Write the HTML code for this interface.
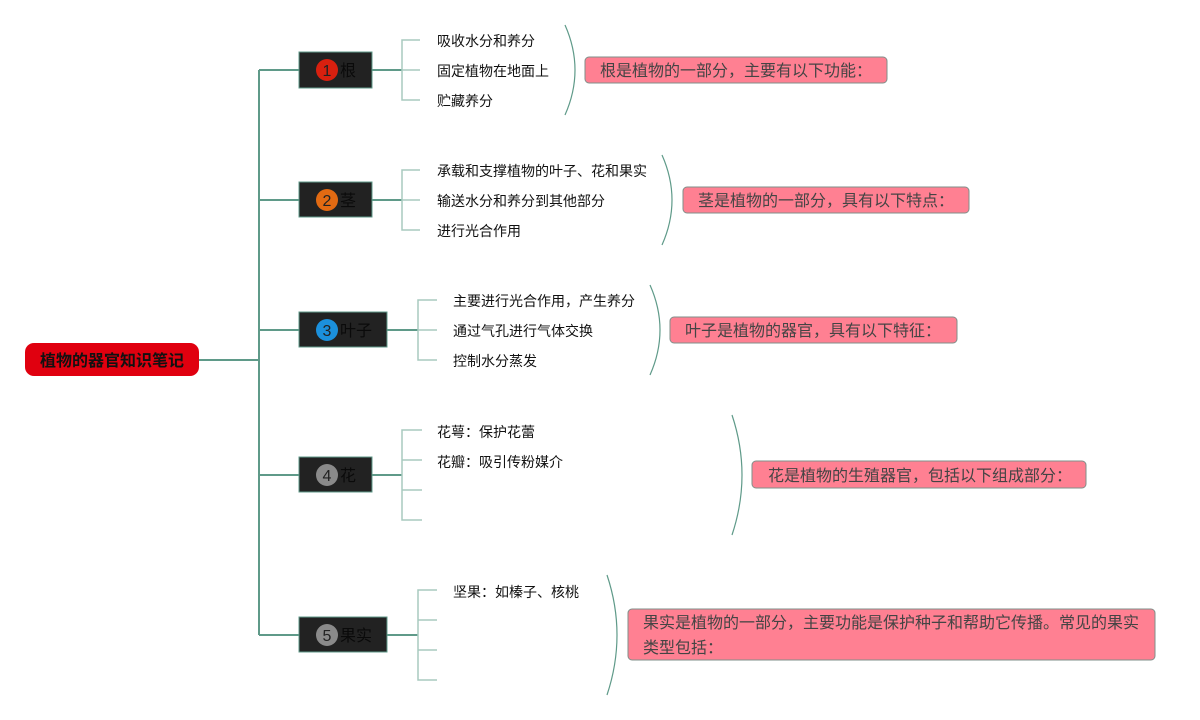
<!DOCTYPE html>
<html><head><meta charset="utf-8"><style>
html,body{margin:0;padding:0;background:#fff;width:1200px;height:720px;overflow:hidden}
svg{display:block}
text{font-family:"Liberation Sans","Noto Sans CJK SC",sans-serif}
.s{font-size:14px;fill:#111}
.t{font-size:16px;fill:#0a0a0a}
.p{font-size:16px;fill:#444}
.n{font-size:16px;fill:#222;text-anchor:middle}
</style></head><body>
<svg width="1200" height="720" viewBox="0 0 1200 720" xmlns="http://www.w3.org/2000/svg">
<g fill="none" stroke="#5f9a89" stroke-width="2">
<path d="M199 360H259M259 70V635M259 70H299M259 200H299M259 330H299M259 475H299M259 635H299"/>
<path d="M372 70H402M372 200H402M387 330H418M372 475H402M387 635H418"/>
</g>
<g fill="none" stroke="#a8cabf" stroke-width="1.5">
<path d="M420 40H402V100H420M402 70H420"/>
<path d="M420 170H402V230H420M402 200H420"/>
<path d="M437 300H418V360H437M418 330H437"/>
<path d="M422 430H402V520H422M402 460H422M402 490H422"/>
<path d="M437 590H418V680H437M418 620H437M418 650H437"/>
</g>
<g fill="none" stroke="#5f9a89" stroke-width="1.2">
<path d="M565 25Q585 70 565 115"/>
<path d="M662 155Q682 200 662 245"/>
<path d="M650 285Q670 330 650 375"/>
<path d="M732 415Q752 475 732 535"/>
<path d="M607 575Q627 635 607 695"/>
</g>
<rect x="25" y="343" width="174" height="33" rx="9" fill="#e0000f"/>
<text x="112" y="366" font-size="16" font-weight="bold" fill="#111" text-anchor="middle">植物的器官知识笔记</text>
<g stroke="#5f9a89" stroke-width="1" fill="#222">
<rect x="299" y="52" width="73" height="36"/>
<rect x="299" y="182" width="73" height="35"/>
<rect x="299" y="312" width="88" height="35"/>
<rect x="299" y="457" width="73" height="35"/>
<rect x="299" y="617" width="88" height="35"/>
</g>
<circle cx="327" cy="70" r="11" fill="#d8200f"/>
<circle cx="327" cy="200" r="11" fill="#e26a12"/>
<circle cx="327" cy="330" r="11" fill="#1b90dc"/>
<circle cx="327" cy="475" r="11" fill="#8a8a8a"/>
<circle cx="327" cy="635" r="11" fill="#8a8a8a"/>
<text class="n" x="327" y="76">1</text>
<text class="n" x="327" y="206">2</text>
<text class="n" x="327" y="336">3</text>
<text class="n" x="327" y="481">4</text>
<text class="n" x="327" y="641">5</text>
<text class="t" x="340" y="76">根</text>
<text class="t" x="340" y="206">茎</text>
<text class="t" x="340" y="336">叶子</text>
<text class="t" x="340" y="481">花</text>
<text class="t" x="340" y="641">果实</text>
<text class="s" x="437" y="46">吸收水分和养分</text>
<text class="s" x="437" y="76">固定植物在地面上</text>
<text class="s" x="437" y="106">贮藏养分</text>
<text class="s" x="437" y="176">承载和支撑植物的叶子、花和果实</text>
<text class="s" x="437" y="206">输送水分和养分到其他部分</text>
<text class="s" x="437" y="236">进行光合作用</text>
<text class="s" x="453" y="306">主要进行光合作用，产生养分</text>
<text class="s" x="453" y="336">通过气孔进行气体交换</text>
<text class="s" x="453" y="366">控制水分蒸发</text>
<text class="s" x="437" y="437">花萼：保护花蕾</text>
<text class="s" x="437" y="467">花瓣：吸引传粉媒介</text>
<text class="s" x="453" y="597">坚果：如榛子、核桃</text>
<g fill="#ff8092" stroke="#7f8f8a" stroke-width="1">
<rect x="585" y="57" width="302" height="26" rx="4"/>
<rect x="683" y="187" width="286" height="26" rx="4"/>
<rect x="670" y="317" width="287" height="26" rx="4"/>
<rect x="752" y="461" width="334" height="27" rx="4"/>
<rect x="628" y="609" width="527" height="51" rx="4"/>
</g>
<text class="p" x="600" y="76">根是植物的一部分，主要有以下功能：</text>
<text class="p" x="698" y="206">茎是植物的一部分，具有以下特点：</text>
<text class="p" x="685" y="336">叶子是植物的器官，具有以下特征：</text>
<text class="p" x="768" y="481">花是植物的生殖器官，包括以下组成部分：</text>
<text class="p" x="643" y="628">果实是植物的一部分，主要功能是保护种子和帮助它传播。常见的果实</text>
<text class="p" x="643" y="653">类型包括：</text>
</svg>
</body></html>
